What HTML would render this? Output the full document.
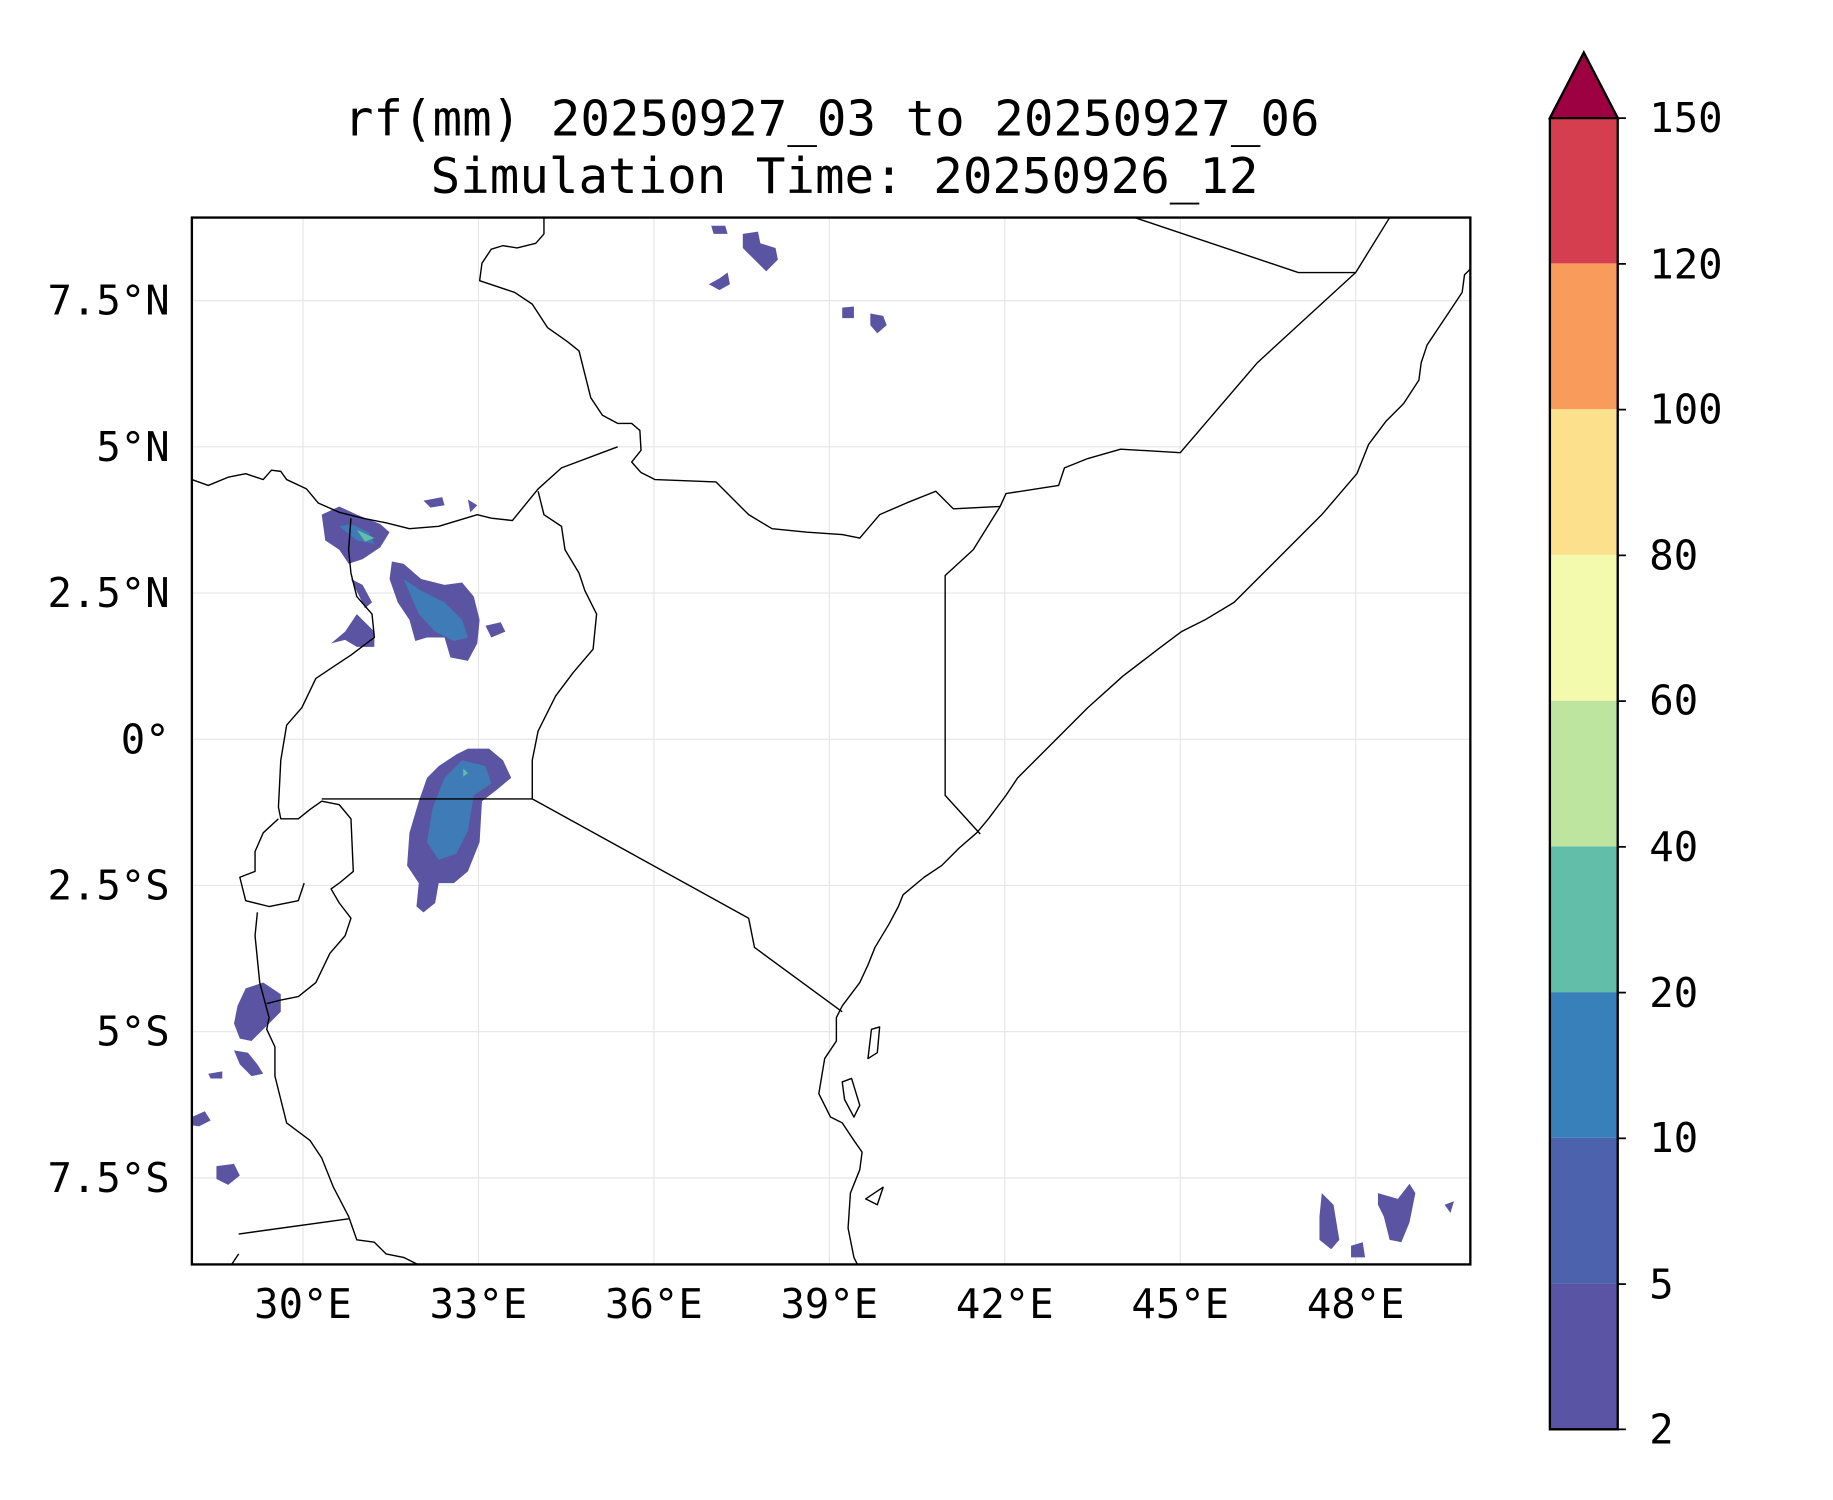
<!DOCTYPE html>
<html><head><meta charset="utf-8"><style>html,body{margin:0;padding:0;background:#fff}svg{display:block}</style></head>
<body>
<svg width="1833" height="1500" viewBox="0 0 1567 1282.4" xmlns="http://www.w3.org/2000/svg" font-family="'DejaVu Sans Mono','Liberation Mono',monospace">
<rect width="1567" height="1282.4" fill="#fff"/>
<text x="711" y="116" font-size="42" text-anchor="middle">rf(mm) 20250927_03 to 20250927_06</text>
<text x="722" y="165" font-size="42" text-anchor="middle">Simulation Time: 20250926_12</text>
<g stroke="#e6e6e6" stroke-width="1">
<line x1="259" y1="186" x2="259" y2="1081"/><line x1="409" y1="186" x2="409" y2="1081"/><line x1="559" y1="186" x2="559" y2="1081"/><line x1="709" y1="186" x2="709" y2="1081"/><line x1="859" y1="186" x2="859" y2="1081"/><line x1="1009" y1="186" x2="1009" y2="1081"/><line x1="1159" y1="186" x2="1159" y2="1081"/>
<line x1="164" y1="257" x2="1257" y2="257"/><line x1="164" y1="382" x2="1257" y2="382"/><line x1="164" y1="507" x2="1257" y2="507"/><line x1="164" y1="632" x2="1257" y2="632"/><line x1="164" y1="757" x2="1257" y2="757"/><line x1="164" y1="882" x2="1257" y2="882"/><line x1="164" y1="1007" x2="1257" y2="1007"/>
</g>
<g stroke="none">
<path fill="#5b54a3" d="M275,440 L290,433 L305,440 L325,448 L333,455 L325,468 L310,478 L298,482 L290,470 L278,462 Z"/>
<path fill="#3f7bb6" d="M290,450 L300,448 L315,455 L320,465 L305,462 Z"/>
<path fill="#62bda9" d="M305,453 L320,460 L312,463 Z"/>
<path fill="#5b54a3" d="M335,480 L345,482 L360,495 L380,500 L395,498 L405,510 L410,530 L408,550 L400,565 L385,562 L380,545 L365,545 L355,548 L350,530 L340,515 L333,495 Z"/>
<path fill="#3f7bb6" d="M345,495 L360,505 L380,515 L395,530 L400,545 L388,548 L372,540 L358,525 Z"/>
<path fill="#5b54a3" d="M415,535 L428,532 L432,540 L420,545 Z"/>
<path fill="#5b54a3" d="M283,550 L295,540 L305,525 L310,530 L320,540 L320,553 L305,553 L295,547 Z"/>
<path fill="#5b54a3" d="M300,495 L310,500 L318,515 L312,520 Z"/>
<path fill="#5b54a3" d="M362,428 L378,425 L380,432 L368,434 Z"/>
<path fill="#5b54a3" d="M400,427 L408,432 L402,438 Z"/>
<path fill="#5b54a3" d="M400,640 L418,640 L430,650 L437,665 L425,675 L412,685 L410,720 L400,745 L388,755 L375,755 L372,772 L362,780 L356,775 L358,755 L348,740 L350,712 L358,685 L365,665 L375,655 L390,645 Z"/>
<path fill="#3f7bb6" d="M395,650 L415,655 L420,670 L405,680 L400,710 L390,730 L375,735 L365,720 L370,690 L380,665 Z"/>
<path fill="#62bda9" d="M396,657 L400,661 L396,664 Z"/>
<path fill="#5b54a3" d="M210,845 L225,840 L240,850 L240,865 L230,875 L215,890 L205,888 L200,875 L203,860 Z"/>
<path fill="#5b54a3" d="M200,898 L212,900 L220,910 L225,918 L215,920 L205,910 Z"/>
<path fill="#5b54a3" d="M185,997 L200,995 L205,1005 L195,1013 L185,1008 Z"/>
<path fill="#5b54a3" d="M164,955 L175,950 L180,958 L170,963 L164,962 Z"/>
<path fill="#5b54a3" d="M178,918 L190,916 L190,922 L180,922 Z"/>
<path fill="#5b54a3" d="M608,193 L620,193 L622,200 L610,200 Z"/>
<path fill="#5b54a3" d="M635,200 L648,198 L650,208 L663,212 L665,222 L655,232 L645,222 L635,212 Z"/>
<path fill="#5b54a3" d="M606,243 L615,238 L622,233 L624,243 L615,248 Z"/>
<path fill="#5b54a3" d="M720,263 L730,262 L730,272 L720,272 Z"/>
<path fill="#5b54a3" d="M744,268 L755,270 L758,278 L750,285 L744,278 Z"/>
<path fill="#5b54a3" d="M1130,1020 L1140,1030 L1145,1060 L1138,1068 L1128,1060 L1128,1040 Z"/>
<path fill="#5b54a3" d="M1178,1020 L1195,1025 L1205,1012 L1210,1020 L1205,1045 L1198,1062 L1188,1060 L1183,1040 L1178,1030 Z"/>
<path fill="#5b54a3" d="M1155,1065 L1165,1062 L1167,1075 L1155,1075 Z"/>
<path fill="#5b54a3" d="M1235,1030 L1243,1027 L1240,1037 Z"/>
</g>
<g fill="none" stroke="#000" stroke-width="1.2" stroke-linejoin="round">
<polyline points="733,1081 730,1075 725,1050 727,1020 735,1000 737,985 730,975 720,960 710,955 700,935 705,905 715,890 715,870 720,860 735,840 742,825 748,810 760,790 768,775 772,765 790,750 805,740 820,725 835,712 845,700 860,680 870,665 880,655 900,635 930,605 960,578 990,555 1010,540 1030,530 1055,515 1075,495 1100,470 1130,440 1160,405 1170,380 1185,360 1200,345 1213,325 1215,310 1220,295 1230,280 1240,265 1250,250 1252,235 1257,230"/>
<polyline points="970,186 1110,233 1159,233 1188,186"/>
<polyline points="1159,233 1075,310 1009,387 958,384 930,392 910,400 905,415 860,422 855,433 815,435 800,420 775,430 752,440 735,460 720,457 690,455 660,452 640,440 612,412 560,410 548,404 540,395 548,385 547,368 540,362 528,362 515,355 505,340 500,320 495,300 485,292 468,280 455,260 440,250 425,245 410,240 412,225 420,213 430,210 442,212 458,208 465,200 465,186"/>
<polyline points="855,433 832,470 808,492 808,680 838,713"/>
<polyline points="528,382 480,400 460,418 438,445 420,443 408,440 375,450 350,452 330,447 310,443 290,438 272,430 262,418 245,410 240,403 232,402 225,410 210,405 195,408 178,415 164,410"/>
<polyline points="460,420 465,440 480,450 483,470 495,490 500,505 510,525 507,555 490,575 475,595 460,625 455,650 455,683 640,785 645,810 720,865"/>
<polyline points="275,683 455,683"/>
<polyline points="300,443 298,470 300,490 305,510 318,525 320,545 300,560 285,570 270,580 258,605 245,620 240,650 238,690 240,700 255,700 265,692 275,685 290,688 300,700 302,745 290,755 283,760 290,772 300,785 295,800 282,815 270,840 255,852 240,855 228,858"/>
<polyline points="238,700 225,712 218,728 218,745 205,750 210,770 230,775 255,770 260,755"/>
<polyline points="220,780 218,800 222,840 230,870 228,880 235,895 235,920 240,940 245,960 265,975 275,990 285,1015 298,1040 305,1060 320,1062 330,1072 345,1075 357,1081"/>
<polyline points="204,1055 298,1042"/>
<polyline points="198,1081 204,1072"/>
<path d="M745,880 L752,878 L750,900 L742,905 Z"/>
<path d="M720,925 L728,922 L735,945 L730,955 L722,940 Z"/>
<path d="M740,1025 L755,1015 L750,1030 Z"/>
</g>
<rect x="164" y="186" width="1093" height="895" fill="none" stroke="#000" stroke-width="2"/>
<g font-size="34.7" text-anchor="end">
<text x="145" y="269">7.5°N</text><text x="145" y="394">5°N</text><text x="145" y="519">2.5°N</text><text x="145" y="644">0°</text><text x="145" y="769">2.5°S</text><text x="145" y="894">5°S</text><text x="145" y="1019">7.5°S</text>
</g>
<g font-size="34.7" text-anchor="middle">
<text x="259" y="1127">30°E</text><text x="409" y="1127">33°E</text><text x="559" y="1127">36°E</text><text x="709" y="1127">39°E</text><text x="859" y="1127">42°E</text><text x="1009" y="1127">45°E</text><text x="1159" y="1127">48°E</text>
</g>
<g stroke="none">
<rect x="1325" y="1097.4" width="58" height="124.6" fill="#5954a4"/>
<rect x="1325" y="972.8" width="58" height="124.6" fill="#4c62ad"/>
<rect x="1325" y="848.2" width="58" height="124.6" fill="#3880b9"/>
<rect x="1325" y="723.6" width="58" height="124.6" fill="#62bda9"/>
<rect x="1325" y="599" width="58" height="124.6" fill="#bee5a0"/>
<rect x="1325" y="474.4" width="58" height="124.6" fill="#f4faad"/>
<rect x="1325" y="349.8" width="58" height="124.6" fill="#fde08b"/>
<rect x="1325" y="225.2" width="58" height="124.6" fill="#f99b5b"/>
<rect x="1325" y="101" width="58" height="124.2" fill="#d53e4f"/>
</g>
<path d="M1325,1222 L1325,101 L1354,45 L1383,101 L1383,1222 Z" fill="none" stroke="#000" stroke-width="2"/>
<path d="M1325,101 L1354,45 L1383,101 Z" fill="#9e0142" stroke="#000" stroke-width="2"/>
<g stroke="#000" stroke-width="1.5">
<line x1="1383" y1="101" x2="1390" y2="101"/><line x1="1383" y1="225.6" x2="1390" y2="225.6"/><line x1="1383" y1="350.2" x2="1390" y2="350.2"/><line x1="1383" y1="474.8" x2="1390" y2="474.8"/><line x1="1383" y1="599.4" x2="1390" y2="599.4"/><line x1="1383" y1="724" x2="1390" y2="724"/><line x1="1383" y1="848.6" x2="1390" y2="848.6"/><line x1="1383" y1="973.2" x2="1390" y2="973.2"/><line x1="1383" y1="1097.8" x2="1390" y2="1097.8"/><line x1="1383" y1="1222" x2="1390" y2="1222"/>
</g>
<g font-size="34.7">
<text x="1410" y="113">150</text><text x="1410" y="238">120</text><text x="1410" y="362">100</text><text x="1410" y="487">80</text><text x="1410" y="611">60</text><text x="1410" y="736">40</text><text x="1410" y="861">20</text><text x="1410" y="985">10</text><text x="1410" y="1110">5</text><text x="1410" y="1234">2</text>
</g>
</svg>
</body></html>
